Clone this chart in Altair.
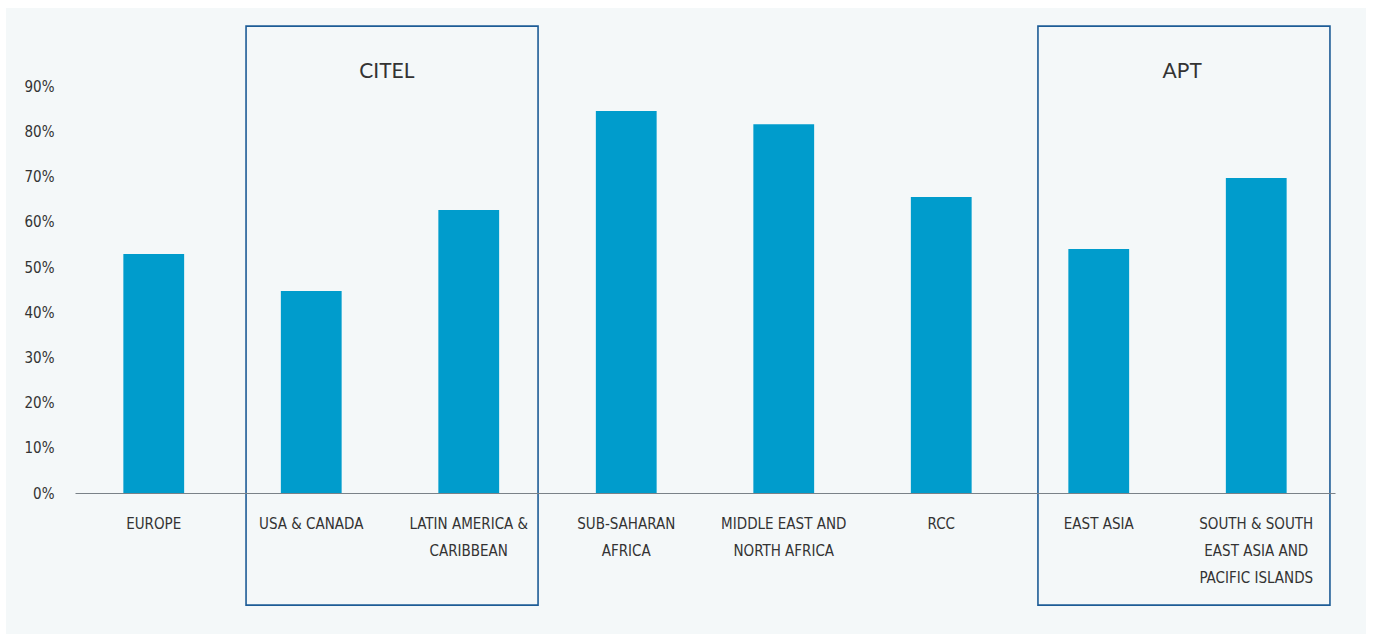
import altair as alt
import pandas as pd

categories = [
    "EUROPE",
    "USA & CANADA",
    "LATIN AMERICA &\nCARIBBEAN",
    "SUB-SAHARAN\nAFRICA",
    "MIDDLE EAST AND\nNORTH AFRICA",
    "RCC",
    "EAST ASIA",
    "SOUTH & SOUTH\nEAST ASIA AND\nPACIFIC ISLANDS",
]
values = [0.529, 0.447, 0.626, 0.845, 0.816, 0.655, 0.54, 0.697]

# group boxes, in category-slot units (slot i spans [i, i+1])
group_names = ["CITEL", "APT"]
group_left = [1.086, 6.114]
group_right = [2.94, 7.968]
group_label_x = [1.98, 7.03]
group_top = [1.033, 1.033]
group_bottom = [-0.248, -0.248]
group_label_y = [0.931, 0.931]

y_ticks = [0, 0.1, 0.2, 0.3, 0.4, 0.5, 0.6, 0.7, 0.8, 0.9]

df = pd.DataFrame({"cat": categories, "val": values})
groups = pd.DataFrame({
    "name": group_names, "left": group_left, "right": group_right, "lx": group_label_x,
    "top": group_top, "bottom": group_bottom, "ly": group_label_y,
})

W, H = 1260, 452
label_font = "'DejaVu Sans Condensed', 'Liberation Sans Narrow', sans-serif"

xscale = alt.Scale(domain=categories, paddingInner=0.614, paddingOuter=0.307)
slot_scale = alt.Scale(domain=[0, len(categories)], nice=False, zero=False)
yscale = alt.Scale(domain=[0, 1], nice=False)

yaxis = alt.Axis(title=None, values=y_ticks, format=".0%", ticks=False,
                 domain=False, grid=False, labelPadding=21,
                 labelFont=label_font, labelFontSize=15,
                 labelColor="#333333", zindex=1)

bg = alt.Chart(pd.DataFrame({"a": [0]})).mark_rect(color="#f4f8f9").encode(
    x=alt.value(-69), x2=alt.value(1291), y=alt.value(-33), y2=alt.value(593)
)

bars = alt.Chart(df).mark_bar(color="#009ccc").encode(
    x=alt.X("cat:N", sort=categories, scale=xscale,
            axis=alt.Axis(title=None, labelExpr="split(datum.label, '\\n')",
                          labelAngle=0, labelBaseline="top", labelPadding=23,
                          labelLineHeight=27, ticks=False, domainColor="#7a8288",
                          domainWidth=1, labelFont=label_font, labelFontSize=15,
                          labelColor="#333333", labelAlign="center", zindex=1)),
    y=alt.Y("val:Q", scale=yscale, axis=yaxis),
)

boxes = alt.Chart(groups).mark_rect(fillOpacity=0, stroke="#1d5c96", strokeWidth=1.6).encode(
    x=alt.X("left:Q", scale=slot_scale, axis=None),
    x2="right:Q",
    y=alt.Y("top:Q", scale=yscale, axis=yaxis),
    y2="bottom:Q",
)

labels = alt.Chart(groups).mark_text(font="Lato", fontSize=21, color="#333333",
                                     align="center", baseline="middle").encode(
    x=alt.X("lx:Q", scale=slot_scale, axis=None),
    y=alt.Y("ly:Q", scale=yscale, axis=yaxis),
    text="name:N",
)

annot = alt.layer(boxes, labels)

chart = alt.layer(bg, bars, annot).resolve_scale(x="independent").properties(
    width=W, height=H,
    autosize=alt.AutoSizeParams(type="none"),
    padding={"left": 75, "top": 41, "right": 38, "bottom": 144},
    background="#ffffff",
).configure_view(stroke=None)

chart.save("out.html", embed_options={"renderer": "svg", "actions": False})
